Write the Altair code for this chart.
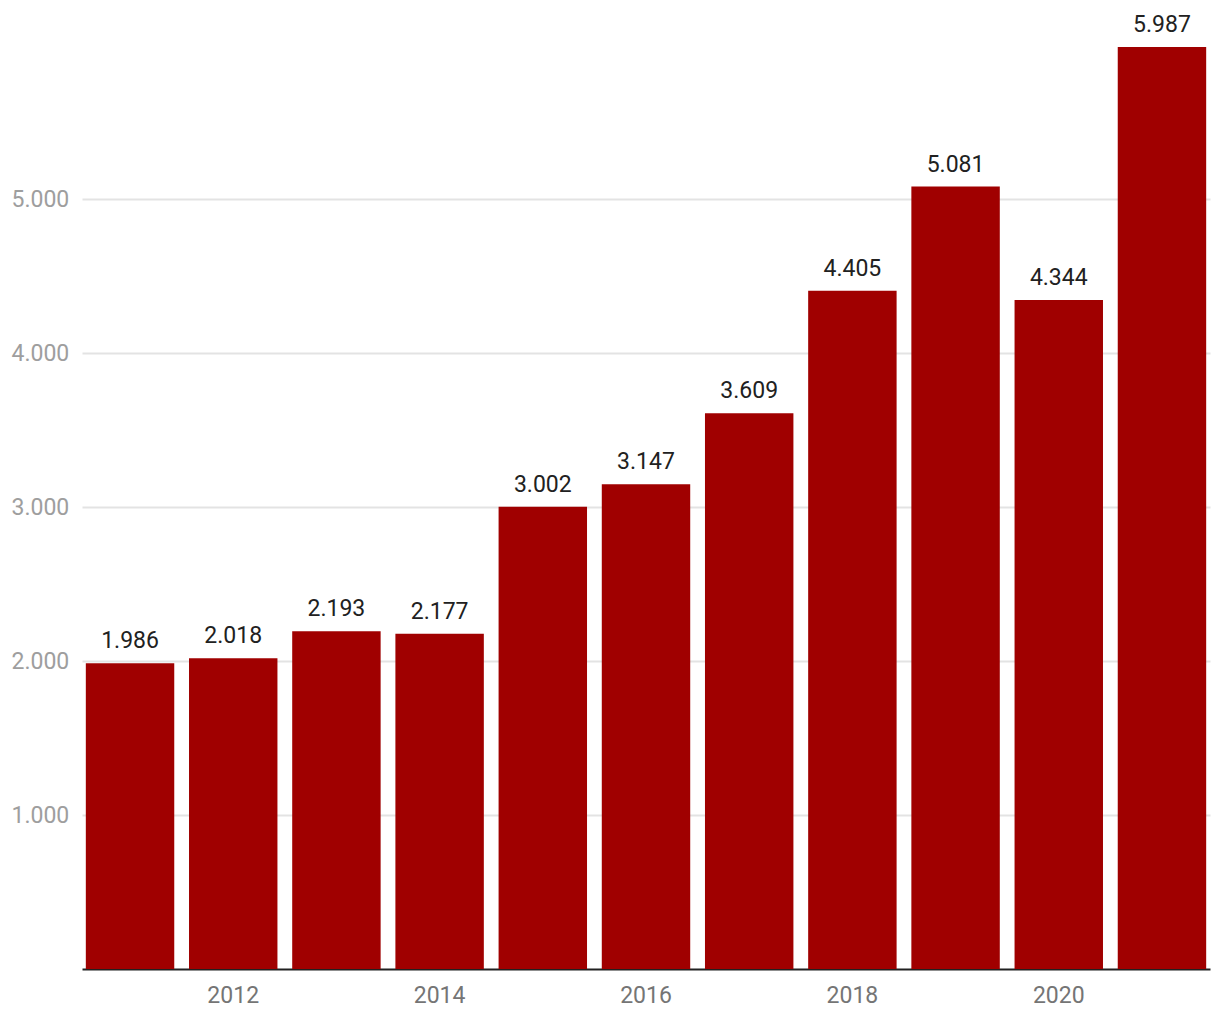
import altair as alt
import pandas as pd

years = ["2011", "2012", "2013", "2014", "2015", "2016", "2017", "2018", "2019", "2020", "2021"]
values = [1986, 2018, 2193, 2177, 3002, 3147, 3609, 4405, 5081, 4344, 5987]
y_ticks = [1000, 2000, 3000, 4000, 5000]

df = pd.DataFrame({"year": years, "value": values})
df["label"] = [f"{v:,}".replace(",", ".") for v in values]

FONT = "Roboto"

x = alt.X(
    "year:O",
    title=None,
    sort=None,
    scale=alt.Scale(paddingInner=0.143, paddingOuter=0.037),
    axis=alt.Axis(
        labelAngle=0,
        ticks=False,
        grid=False,
        domain=True,
        domainColor="#212121",
        domainWidth=2,
        labelColor="#757575",
        labelFontSize=23,
        labelFont=FONT,
        labelPadding=15,
        labelExpr="toNumber(datum.value) % 2 == 0 ? datum.value : ''",
    ),
)

y = alt.Y(
    "value:Q",
    title=None,
    scale=alt.Scale(domain=[0, 6000], nice=False),
    axis=alt.Axis(
        values=y_ticks,
        ticks=False,
        domain=False,
        grid=True,
        gridColor="#e3e3e3",
        gridWidth=2,
        labelAlign="left",
        labelPadding=71,
        labelColor="#9e9e9e",
        labelFontSize=23,
        labelFont=FONT,
        labelExpr="replace(format(datum.value, ','), ',', '.')",
    ),
)

bars = alt.Chart(df).mark_bar(color="#a00000").encode(x=x, y=y)

text = alt.Chart(df).mark_text(
    baseline="alphabetic",
    dy=-15,
    fontSize=23,
    font=FONT,
    color="#212121",
).encode(x=alt.X("year:O", sort=None), y="value:Q", text="label:N")

chart = (
    alt.layer(bars, text)
    .properties(
        width=1128,
        height=924,
        autosize=alt.AutoSizeParams(type="none"),
        padding={"left": 82, "top": 45, "right": 10, "bottom": 51},
        view=alt.ViewBackground(stroke="transparent", strokeWidth=0),
    )
    .configure_view(stroke="transparent", strokeWidth=0, strokeOpacity=0)
    .configure(background="white")
)

chart.save("out.html", embed_options={"renderer": "svg", "actions": False})
